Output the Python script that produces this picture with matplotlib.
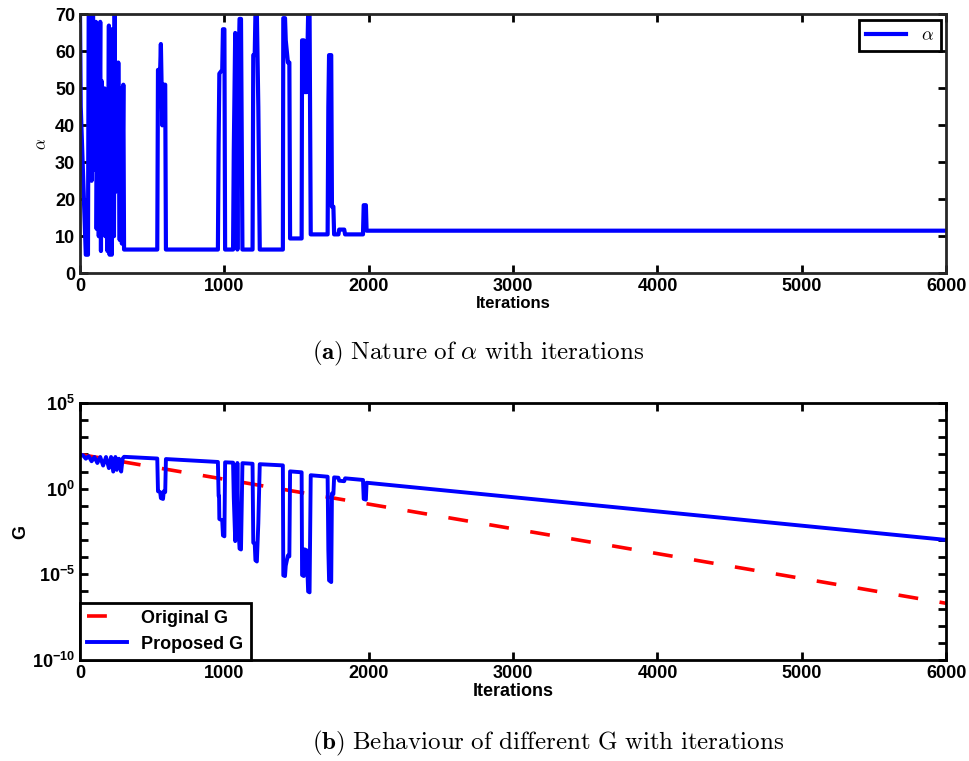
import numpy as np
import matplotlib
matplotlib.use("Agg")
import matplotlib.pyplot as plt
from matplotlib.ticker import FixedLocator, FuncFormatter, NullLocator

plt.rcParams['font.family'] = ['Liberation Sans', 'DejaVu Sans']
plt.rcParams['mathtext.fontset'] = 'custom'
plt.rcParams['mathtext.rm'] = 'Liberation Sans:bold'
plt.rcParams['mathtext.bf'] = 'Liberation Sans:bold'

# alpha vs iterations (vertices)
alpha_iter = [0, 5, 40, 55, 60, 75, 80, 90, 100, 110, 115, 125, 130, 140, 145, 150,
              160, 170, 175, 180, 190, 200, 205, 215, 220, 225, 235, 240, 245, 255,
              260, 265, 275, 280, 290, 300, 305,
              535, 540, 555, 560, 570, 580, 590, 595,
              955, 960, 965, 985, 990, 1000, 1005,
              1060, 1065, 1075, 1085, 1090, 1095, 1105, 1115, 1125,
              1195, 1200, 1210, 1215, 1225, 1235, 1245,
              1405, 1408, 1420, 1425, 1440, 1450, 1455,
              1535, 1538, 1550, 1555, 1570, 1580, 1590, 1598,
              1715, 1720, 1725, 1740, 1745, 1755, 1760,
              1790, 1795, 1830, 1836,
              1960, 1965, 1980, 1985, 6000]
alpha_val = [70, 45, 5, 5, 70, 70, 25, 70, 28, 68, 12, 60, 10, 68, 6, 52,
             15, 50, 10, 40, 6, 67, 5, 66, 5, 62, 10, 70, 22, 40,
             25, 57, 9, 50, 8, 51, 6.4,
             6.4, 55, 55, 62, 40, 51, 51, 6.4,
             6.4, 35, 54, 55, 66, 66, 6.4,
             6.4, 33, 65, 50, 6.4, 49, 68.8, 68.8, 6.4,
             6.4, 59, 59, 70, 70, 45, 6.4,
             6.4, 69, 69, 63, 57, 57, 9.4,
             9.4, 63, 63, 49, 49, 70, 70, 10.5,
             10.5, 45, 59, 59, 18, 18, 10.5,
             10.5, 11.8, 11.8, 10.5,
             10.5, 18.4, 18.4, 11.5, 11.5]

# G vs iterations, log10 values
orig_iter = [0, 1000, 2000, 3000, 4000, 5000, 6000]
orig_logg = [2.0, 0.55, -0.9, -2.34, -3.79, -5.24, -6.69]

prop_iter = [0, 20, 40, 60, 80, 100, 120, 140, 160, 180, 200, 215, 230, 245, 255,
             270, 285, 295, 305,
             535, 540, 555, 560, 575, 580, 590, 595,
             955, 960, 963, 965, 985, 990, 1000, 1005,
             1060, 1065, 1075, 1085, 1090, 1095, 1105, 1115, 1125,
             1195, 1200, 1210, 1215, 1225, 1235, 1245,
             1405, 1408, 1420, 1425, 1440, 1450, 1455,
             1535, 1538, 1550, 1555, 1570, 1580, 1590, 1598,
             1715, 1720, 1725, 1740, 1745, 1755, 1760,
             1790, 1795, 1830, 1836,
             1960, 1965, 1980, 1985, 6000]
prop_logg = [2.0, 1.95, 1.75, 1.9, 1.6, 1.85, 1.5, 1.85, 1.35, 1.85, 1.2, 1.85, 1.0, 1.85, 1.1,
             1.75, 1.0, 1.75, 1.86,
             1.76, -0.15, -0.2, -0.55, -0.6, -0.15, -0.2, 1.73,
             1.56, -0.43, -0.43, -1.77, -1.85, -2.73, -2.78, 1.54,
             1.52, -0.54, -3.06, -1.93, 1.5, -1.88, -3.5, -3.55, 1.49,
             1.455, -3.15, -3.2, -4.18, -4.25, -2.02, 1.43,
             1.36, -5.06, -5.1, -4.5, -3.9, -3.95, 1.01,
             0.956, -5.04, -5.1, -3.54, -3.6, -6.0, -6.05, 0.786,
             0.70, -3.6, -5.35, -5.45, -0.28, -0.32, 0.66,
             0.64, 0.467, 0.437, 0.605,
             0.51, -0.6, -0.64, 0.348, -2.99]

blue = '#0000ff'
red = '#ff0000'

fig = plt.figure(figsize=(9.7, 7.61), dpi=100)

# (a) alpha
ax1 = fig.add_axes([0.0825, 0.641, 0.893, 0.340])
ax1.plot(alpha_iter, alpha_val, color=blue, lw=3, label=r'$\alpha$')
ax1.set_xlim(0, 6000)
ax1.set_ylim(0, 70)
ax1.set_xticks(range(0, 6001, 1000))
ax1.set_yticks(range(0, 71, 10))
ax1.set_xlabel('Iterations', fontsize=12, fontweight='bold', labelpad=1)
yl = ax1.set_ylabel(r'$\alpha$', fontsize=12, labelpad=4)
yl.set_math_fontfamily('cm')
leg1 = ax1.legend(loc='upper right', fancybox=False, edgecolor='black',
                  handlelength=2.2, fontsize=13, borderaxespad=0.3, framealpha=1)
leg1.get_frame().set_linewidth(2)
for t in leg1.get_texts():
    t.set_math_fontfamily('cm')
for s in ax1.spines.values():
    s.set_linewidth(2)
    s.set_color('#262626')

# (b) G
ax2 = fig.add_axes([0.0825, 0.1327, 0.893, 0.3377])
ax2.plot(orig_iter, 10.0 ** np.array(orig_logg), color=red, lw=2.6,
         dashes=(5.5, 6), label='Original G')
ax2.plot(prop_iter, 10.0 ** np.array(prop_logg), color=blue, lw=2.8,
         label='Proposed G')
ax2.set_yscale('log')
ax2.set_xlim(0, 6000)
ax2.set_ylim(1e-10, 1e5)
ax2.set_xticks(range(0, 6001, 1000))
ax2.yaxis.set_major_locator(FixedLocator([10.0 ** e for e in range(-10, 6)]))
ax2.yaxis.set_minor_locator(NullLocator())
ax2.yaxis.set_major_formatter(FuncFormatter(
    lambda v, p: r'$10^{%d}$' % round(np.log10(v)) if round(np.log10(v)) % 5 == 0 else ''))
ax2.set_xlabel('Iterations', fontsize=13, fontweight='bold', labelpad=1)
ax2.set_ylabel('G', fontsize=13, fontweight='bold', labelpad=2)
leg2 = ax2.legend(loc='lower left', fancybox=False, edgecolor='black',
                  handlelength=2.2, borderaxespad=0, framealpha=1,
                  prop={'weight': 'bold', 'size': 13})
leg2.get_frame().set_linewidth(2)
for s in ax2.spines.values():
    s.set_linewidth(2)
    s.set_color('black')

for ax in (ax1, ax2):
    ax.tick_params(direction='in', top=True, right=True, length=6, width=2,
                   labelsize=13)
    for lab in ax.get_xticklabels() + ax.get_yticklabels():
        lab.set_fontweight('bold')

t1 = fig.text(312 / 970, 1 - 353 / 761,
              r'$\mathbf{(a)}$ $\mathrm{Nature\ of}\ \alpha\ \mathrm{with\ iterations}$',
              fontsize=18, ha='left', va='center')
t1.set_math_fontfamily('cm')
t2 = fig.text(312 / 970, 1 - 743 / 761,
              r'$\mathbf{(b)}$ $\mathrm{Behaviour\ of\ different\ G\ with\ iterations}$',
              fontsize=18, ha='left', va='center')
t2.set_math_fontfamily('cm')

fig.savefig('out.png', dpi=100)
